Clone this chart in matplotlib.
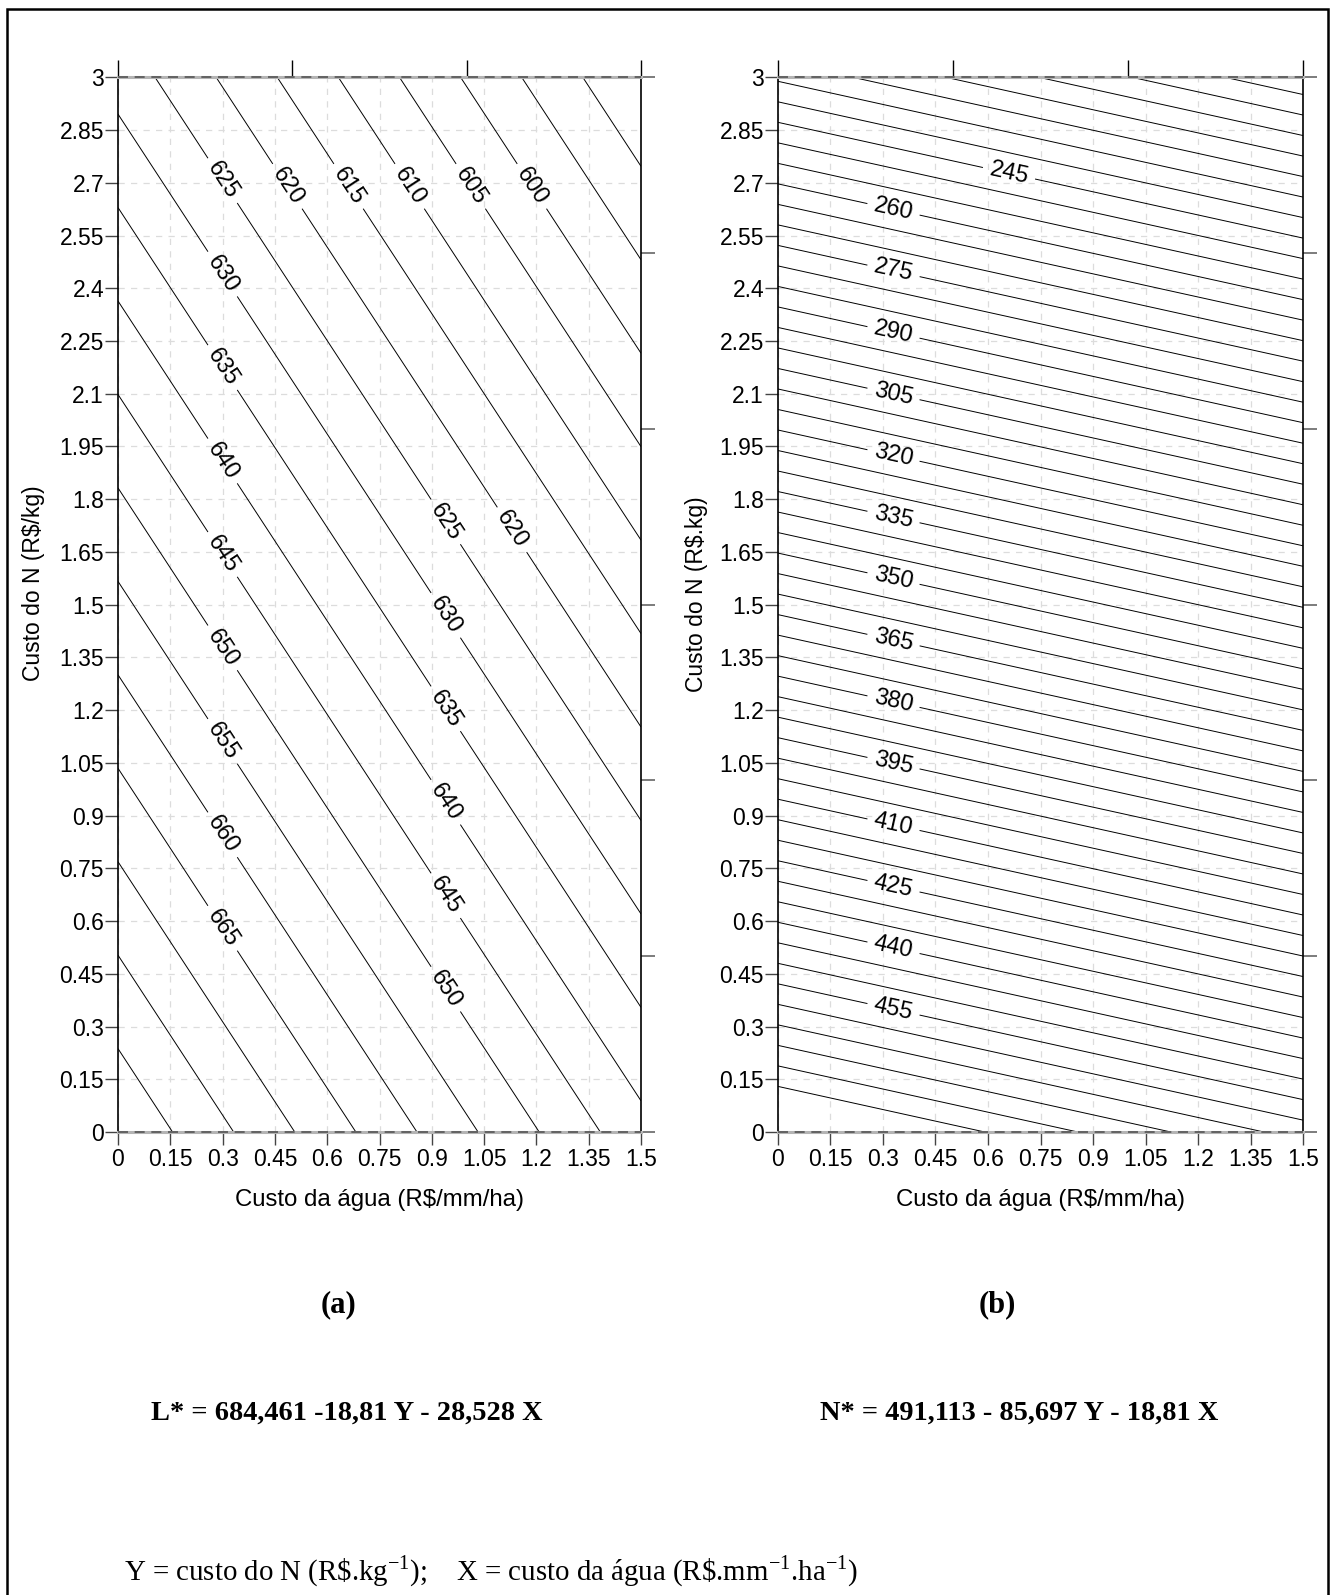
import numpy as np
import matplotlib
matplotlib.use("Agg")
import matplotlib.pyplot as plt
from matplotlib.patches import Rectangle

plt.rcParams['font.family'] = ['Liberation Sans', 'DejaVu Sans']
plt.rcParams['mathtext.fontset'] = 'custom'
plt.rcParams['mathtext.rm'] = 'Liberation Serif'

# --- dados (equações do artigo) ---
coef_L = [684.461, 18.81, 28.528]     # L* = a - b*Y - c*X
coef_N = [491.113, 85.697, 18.81]     # N* = a - b*Y - c*X
niveis_L = np.arange(590, 685, 5)
niveis_N = np.arange(210, 485, 5)

# rótulos das isolinhas: (valor, X ou Y fixo)
rot_L_col1 = [625, 630, 635, 640, 645, 650, 655, 660, 665]   # em X ~ 0.3
rot_L_topo = [620, 615, 610, 605, 600]                      # em Y ~ 2.69
rot_L_col2 = [625, 630, 635, 640, 645, 650]                  # em X ~ 0.94
rot_N_col = [260, 275, 290, 305, 320, 335, 350, 365, 380, 395, 410, 425, 440, 455]
rot_N_extra = [245]

xticks = np.arange(0, 1.5001, 0.15)
yticks = np.arange(0, 3.0001, 0.15)

W, H = 1341, 1595
fig = plt.figure(figsize=(W / 100, H / 100), dpi=100)

x = np.linspace(0, 1.5, 301)
y = np.linspace(0, 3, 601)
XX, YY = np.meshgrid(x, y)


def fmt(v):
    return f"{round(v, 2):g}"


def desenha(ax, coef, niveis, rotulos, ylabel):
    a, b, c = coef
    Z = a - b * YY - c * XX
    ax.set_xlim(0, 1.5)
    ax.set_ylim(0, 3)
    ax.set_xticks(xticks)
    ax.set_xticklabels([fmt(v) for v in xticks])
    ax.set_yticks(yticks)
    ax.set_yticklabels([fmt(v) for v in yticks])
    ax.grid(True, color='#dcdcdc', linestyle=(0, (5, 5)), linewidth=0.9)
    ax.set_axisbelow(True)
    ax.tick_params(direction='out', length=9.5, width=1, color='#444444',
                   labelsize=16.5)
    ax.tick_params(axis='y', pad=0.5)
    ax.tick_params(axis='x', pad=2)

    cs = ax.contour(XX, YY, Z, levels=niveis, colors='k', linewidths=0.7)
    pos = []
    for v, xx in rotulos:
        pos.append((xx, (a - c * xx - v) / b))
    ax.clabel(cs, manual=pos, fmt='%d', fontsize=17, inline=True, inline_spacing=7)

    for s in ['left', 'right']:
        ax.spines[s].set_color('k')
        ax.spines[s].set_linewidth(1.2)
    for s in ['top', 'bottom']:
        ax.spines[s].set_color('#b4b4b4')
        ax.spines[s].set_linewidth(2.2)
    for yy in [0, 3]:
        ax.axhline(yy, color='#555555', linewidth=1.2, linestyle=(0, (6, 4)),
                   clip_on=False, zorder=5)

    topo = ax.secondary_xaxis('top')
    topo.set_xticks([0, 0.5, 1.0, 1.5])
    topo.tick_params(direction='out', length=12, width=1, color='k', labeltop=False)
    topo.spines['top'].set_visible(False)
    dir_ = ax.secondary_yaxis('right')
    dir_.set_yticks(np.arange(0, 3.001, 0.5))
    dir_.tick_params(direction='out', length=10, width=1.2, color='#666666', labelright=False)
    dir_.spines['right'].set_visible(False)

    ax.set_xlabel('Custo da água (R$/mm/ha)', fontsize=17.3, labelpad=13)
    ax.set_ylabel(ylabel, fontsize=16.5)


def pos_ax(x0, x1, ytop, ybot):
    return [x0 / W, 1 - ybot / H, (x1 - x0) / W, (ybot - ytop) / H]


ax1 = fig.add_axes(pos_ax(118, 641, 77.3, 1132))
ax2 = fig.add_axes(pos_ax(778, 1303, 77.3, 1132))

rotulos_L = ([(v, 0.30) for v in rot_L_col1]
             + [(v, (coef_L[0] - coef_L[1] * 2.69 - v) / coef_L[2]) for v in rot_L_topo]
             + [(v, 0.94) for v in rot_L_col2]
             + [(620, 1.13)])
rotulos_N = [(v, 0.33) for v in rot_N_col] + [(v, 0.66) for v in rot_N_extra]

desenha(ax1, coef_L, niveis_L, rotulos_L, 'Custo do N (R$/kg)')
desenha(ax2, coef_N, niveis_N, rotulos_N, 'Custo do N (R$.kg)')
ax1.yaxis.set_label_coords(-0.140, 0.52)
ax2.yaxis.set_label_coords(-0.134, 0.51)

# moldura
fig.add_artist(Rectangle((6.5 / W, -0.02), (1328 - 6.5) / W, 1.02 - 9 / H,
                         transform=fig.transFigure, fill=False,
                         edgecolor='k', linewidth=1.8))

serif = ['Liberation Serif', 'DejaVu Serif']
fig.text(339 / W, 1 - 1305 / H, '(a)', family=serif, weight='bold',
         fontsize=22, ha='center', va='center')
fig.text(997 / W, 1 - 1305 / H, '(b)', family=serif, weight='bold',
         fontsize=22, ha='center', va='center')
fig.text(151 / W, 1 - 1413 / H, 'L* = 684,461 -18,81 Y - 28,528 X', family=serif,
         weight='bold', fontsize=20.4, ha='left', va='center')
fig.text(820 / W, 1 - 1413 / H, 'N* = 491,113 - 85,697 Y - 18,81 X', family=serif,
         weight='bold', fontsize=20.4, ha='left', va='center')
fig.text(124 / W, 1 - 1571 / H,
         r'Y = custo do N (R\$.kg$^{-1}$);    X = custo da água (R\$.mm$^{-1}$.ha$^{-1}$)',
         family=serif, fontsize=20.8, ha='left', va='center')

fig.savefig('out.png', dpi=100)
